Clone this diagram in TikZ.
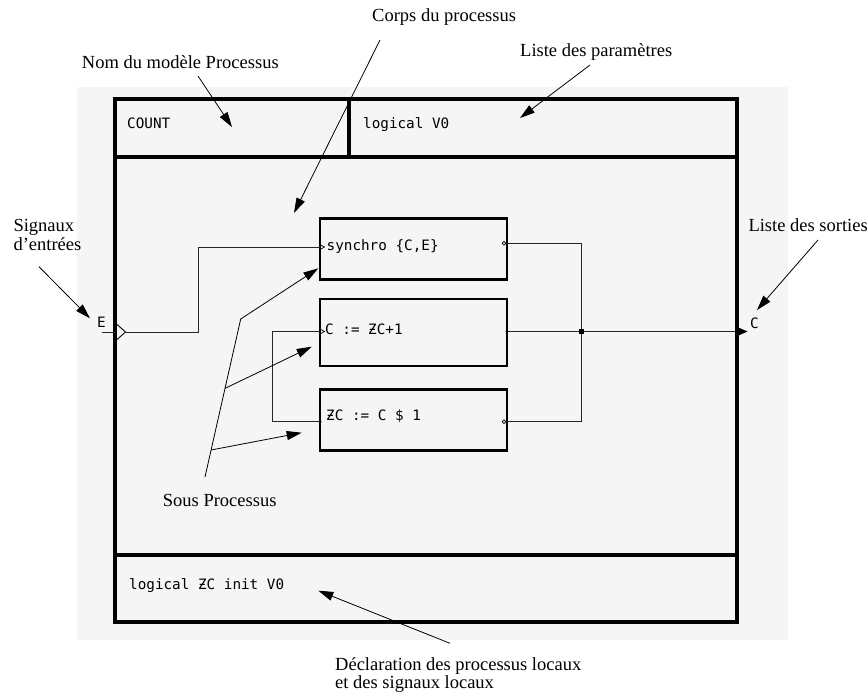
\documentclass[tikz,border=0pt]{standalone}
\usepackage{fontspec}
\setmainfont{Liberation Serif}
\setmonofont{DejaVu Sans Mono}
\usetikzlibrary{arrows.meta,calc}
\definecolor{bg}{HTML}{F5F5F5}
\begin{document}
\begin{tikzpicture}[x=1pt,y=-1pt,
  lbl/.style={font=\fontsize{18.5}{18.3}\selectfont, inner sep=0, anchor=base west},
  code/.style={font=\fontsize{14.3}{16}\selectfont\ttfamily, inner sep=0, anchor=base west},
  annot/.style={line width=0.8pt, -{Triangle[length=15pt,width=9pt]}},
  wire/.style={line width=1pt, black!85},
  frameline/.style={line width=3.3pt},
  procbox/.style={draw, line width=2.8pt, minimum width=187pt, inner sep=0},
  pinmark/.style={line width=0.7pt},
]
\useasboundingbox (0,0) rectangle (867,691);
\fill[bg] (77,87) rectangle (788,640);

% process frame
\draw[frameline] (115,99) rectangle (737,622);
\draw[frameline] (115,157) -- (737,157);
\draw[frameline] (349,99) -- (349,157);
\draw[frameline] (115,555) -- (737,555);

\node[code] (name) at (127,128.5) {COUNT};
\node[code] (params) at (363,128.5) {logical V0};
\node[code] (decl) at (129,589.5) {logical ƵC init V0};

% sub-processes
\node[procbox, minimum height=61pt] (b1) at (413.5,248.8) {};
\node[procbox, minimum height=67pt] (b2) at (413.5,332.5) {};
\node[procbox, minimum height=61.4pt] (b3) at (413.5,420) {};

\node[code] (t1) at (326.5,250) {synchro \{C,E\}};
\node[code] (t2) at (325,334) {C := ƵC+1};
\node[code] (t3) at (326,420.5) {ƵC := C \$ 1};

% ports
\coordinate (b1in) at (320,247);
\coordinate (b2in) at (320,331.5);
\coordinate (b3in) at (320,421.7);
\coordinate (b1out) at (506,243.3);
\coordinate (b2out) at (507,331.5);
\coordinate (b3out) at (506,421.7);
\coordinate (Estub) at (101.7,332);
\coordinate (Epin) at (115,332);
\coordinate (Ein) at (125.5,332);
\coordinate (Cout) at (737,331.5);
\node[fill, minimum size=5pt, inner sep=0] (jn) at (581.7,331.5) {};

% wires
\draw[wire] (Estub) -- (Epin);
\draw[wire] (Ein) -- (198.3,332) |- (b1in);
\draw[wire] (b3in) -| (272.7,331.5) -- (b2in);
\draw[wire] (b1out) -| (jn) |- (b3out);
\draw[wire] (b2out) -- (jn) -- (Cout);

% pin markers
\draw[line width=0.9pt] (116.5,324) -- (Ein) -- (116.5,340);
\fill (735,326) -- (747.5,331.5) -- (735,337) -- cycle;
\draw[pinmark] (320,244.5) -- (324.5,247) -- (320,249.5);
\draw[pinmark] (320,329) -- (324.5,331.5) -- (320,334);
\fill (b3in) circle (1.7);
\fill (b2out) circle (1.7);
\draw[pinmark, fill=bg] (504,243.3) circle (1.9);
\draw[pinmark, fill=bg] (504,421.7) circle (1.9);

\node[code] (Elbl) at (97,327) {E};
\node[code] (Clbl) at (750,328) {C};

% annotations
\node[lbl] (corps) at (372,21.7) {Corps du processus};
\coordinate (corpsS) at (380,40);
\coordinate (corpsT) at (294,213);
\draw[annot] (corpsS) -- (corpsT);

\node[lbl] (nom) at (81.7,68) {Nom du modèle Processus};
\coordinate (nomS) at (198,76);
\coordinate (nomT) at (232,127);
\draw[annot] (nomS) -- (nomT);

\node[lbl] (par) at (520,56.7) {Liste des paramètres};
\coordinate (parS) at (590,65);
\coordinate (parT) at (520,118);
\draw[annot] (parS) -- (parT);

\node[lbl] (sor) at (748.3,231.7) {Liste des sorties};
\coordinate (sorS) at (818,240);
\coordinate (sorT) at (757,310);
\draw[annot] (sorS) -- (sorT);

\node[lbl] (sig1) at (13.3,231.7) {Signaux};
\node[lbl] (sig2) at (13.3,250) {d’entrées};
\coordinate (sigS) at (39,266.7);
\coordinate (sigT) at (90,318.3);
\draw[annot] (sigS) -- (sigT);

\node[lbl] (dec1) at (335,670) {Déclaration des processus locaux};
\node[lbl] (dec2) at (335,688) {et des signaux locaux};
\coordinate (decS) at (450,643.3);
\coordinate (decT) at (318.3,590.7);
\draw[annot] (decS) -- (decT);

\node[lbl] (sous) at (162.7,506.7) {Sous Processus};
\coordinate (spA) at (205,477);
\coordinate (spB) at (240.7,319);
\coordinate (spT1) at (318.3,268.3);
\coordinate (spM) at ($(spA)!0.561!(spB)$);
\coordinate (spT2) at (311.7,346.7);
\coordinate (spL) at ($(spA)!0.171!(spB)$);
\coordinate (spT3) at (301.7,432.7);
\draw[annot] (spA) -- (spB) -- (spT1);
\draw[annot] (spM) -- (spT2);
\draw[annot] (spL) -- (spT3);
\end{tikzpicture}
\end{document}
